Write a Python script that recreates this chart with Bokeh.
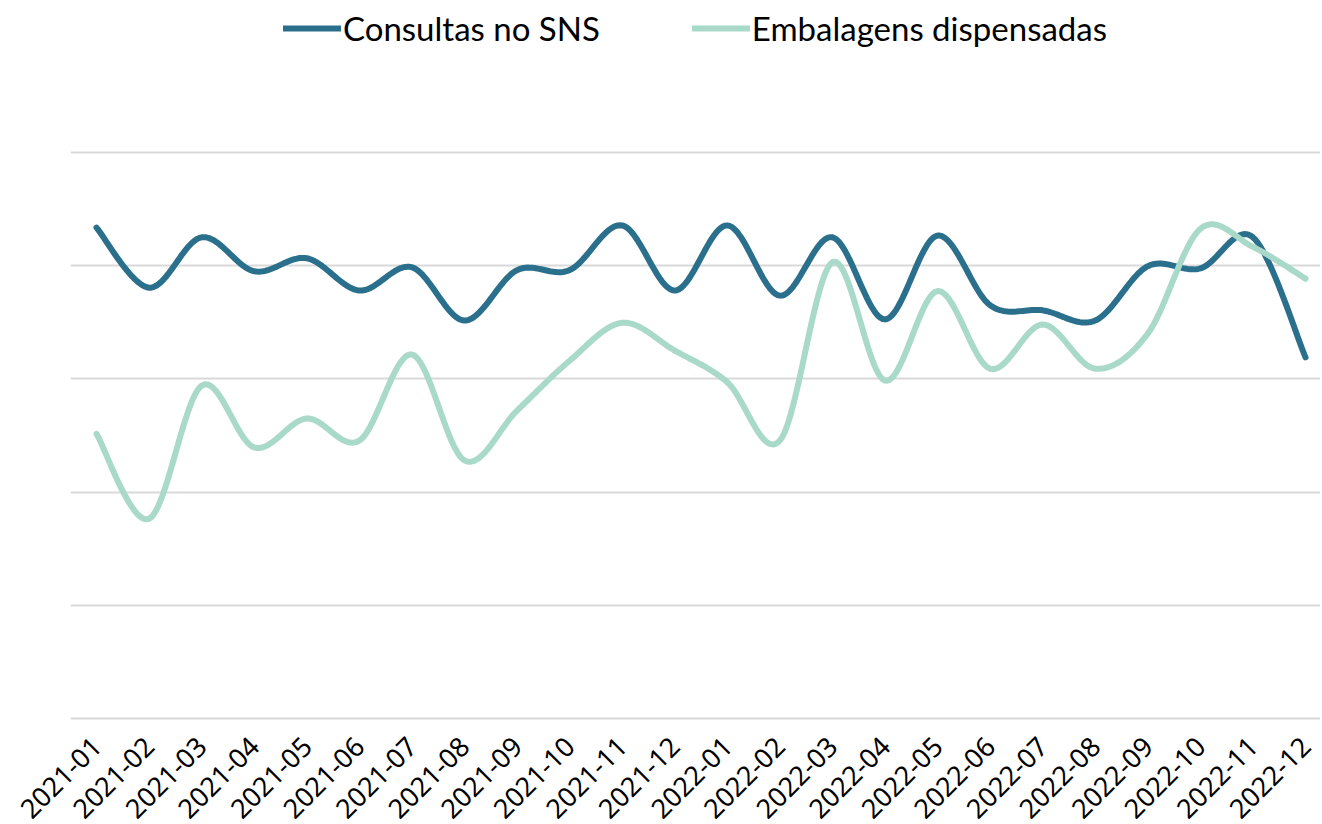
import numpy as np
from bokeh.plotting import figure
from bokeh.models import Range1d, FixedTicker, Legend, LegendItem
from bokeh.embed import file_html
from bokeh.resources import INLINE

months = ["2021-01", "2021-02", "2021-03", "2021-04", "2021-05", "2021-06",
          "2021-07", "2021-08", "2021-09", "2021-10", "2021-11", "2021-12",
          "2022-01", "2022-02", "2022-03", "2022-04", "2022-05", "2022-06",
          "2022-07", "2022-08", "2022-09", "2022-10", "2022-11", "2022-12"]

consultas = [86.7, 76.1, 85.0, 79.0, 81.3, 75.6, 79.7, 70.3, 79.2, 79.2, 87.1, 75.6,
             87.1, 74.7, 85.0, 70.5, 85.3, 73.0, 72.1, 70.3, 79.9, 79.5, 85.0, 63.8]

embalagens = [50.3, 35.3, 58.8, 47.9, 53.0, 49.1, 64.3, 45.6, 54.4, 63.2, 69.9, 65.0,
              59.4, 49.1, 80.6, 59.7, 75.5, 61.8, 69.6, 61.8, 68.0, 86.5, 83.3, 77.7]

y_ticks = [0, 20, 40, 60, 80, 100]

C1 = "#2A6F8C"
C2 = "#A9D9C9"


def smooth(xs, ys, n=24):
    # Bezier smoothing (Catmull-Rom control points), like a spreadsheet "smoothed line"
    P = np.column_stack([np.asarray(xs, float), np.asarray(ys, float)])
    out = []
    m = len(P)
    for i in range(m - 1):
        p0 = P[i - 1] if i > 0 else P[i]
        p1 = P[i]
        p2 = P[i + 1]
        p3 = P[i + 2] if i + 2 < m else P[i + 1]
        c1 = p1 + (p2 - p0) / 6.0
        c2 = p2 - (p3 - p1) / 6.0
        t = np.linspace(0, 1, n, endpoint=(i == m - 2))[:, None]
        b = ((1 - t) ** 3) * p1 + 3 * ((1 - t) ** 2) * t * c1 + 3 * (1 - t) * t ** 2 * c2 + t ** 3 * p2
        out.append(b)
    out = np.vstack(out)
    return out[:, 0], out[:, 1]


xi = list(range(len(months)))

p = figure(frame_width=1250, frame_height=713, output_backend="svg", toolbar_location=None,
           x_range=Range1d(-0.4946, 23.285), y_range=Range1d(-0.5, 125.4),
           min_border_left=70, min_border_right=0, min_border_top=8, min_border_bottom=0)
p.outline_line_color = None
p.background_fill_color = "white"
p.border_fill_color = "white"

sx1, sy1 = smooth(xi, consultas)
sx2, sy2 = smooth(xi, embalagens)

r1 = p.line(sx1, sy1, line_color=C1, line_width=6, line_cap="round", line_join="round")
r2 = p.line(sx2, sy2, line_color=C2, line_width=6, line_cap="round", line_join="round")

p.xgrid.visible = False
p.ygrid.ticker = FixedTicker(ticks=y_ticks)
p.ygrid.grid_line_color = "#D9D9D9"
p.ygrid.grid_line_width = 2

p.yaxis.visible = False

xa = p.xaxis[0]
xa.ticker = FixedTicker(ticks=xi)
xa.major_label_overrides = {i: m for i, m in enumerate(months)}
xa.major_label_orientation = np.pi / 4
xa.axis_line_color = None
xa.major_tick_line_color = None
xa.major_tick_out = 0
xa.major_tick_in = 0
xa.minor_tick_line_color = None
xa.major_label_text_font = "Noto Sans"
xa.major_label_text_font_size = "27px"
xa.major_label_text_color = "#000000"
xa.major_label_standoff = 20

legend = Legend(items=[LegendItem(label="Consultas no SNS", renderers=[r1]),
                       LegendItem(label="Embalagens dispensadas", renderers=[r2])],
                orientation="horizontal", location="top_center")
legend.label_text_font = "Lato"
legend.label_text_font_size = "33px"
legend.label_text_color = "#000000"
legend.glyph_width = 58
legend.glyph_height = 30
legend.label_standoff = 2
legend.spacing = 92
legend.border_line_color = None
legend.background_fill_alpha = 0
legend.margin = 0
legend.padding = 2
p.add_layout(legend)

open("out.html", "w").write(file_html(p, INLINE))
